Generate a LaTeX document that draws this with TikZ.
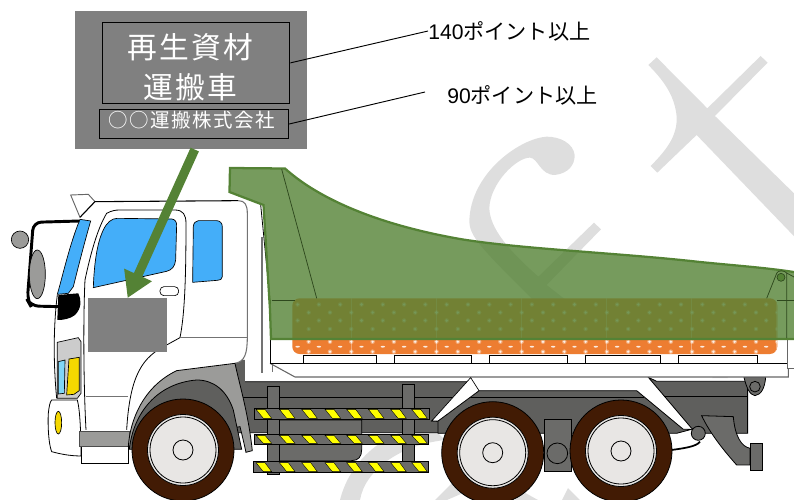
\documentclass[tikz,border=0pt]{standalone}
\usepackage{fontspec}
\newfontfamily\cjk{Noto Sans CJK JP}
\newfontfamily\cjkwide[LetterSpace=8]{Noto Sans CJK JP}
\newfontfamily\latn{Liberation Sans}
\usetikzlibrary{arrows.meta,calc}
\definecolor{wm}{HTML}{DEDEDE}
\definecolor{grn}{HTML}{548235}
\definecolor{org}{HTML}{ED7D31}
\definecolor{skyb}{HTML}{44AEF9}
\definecolor{dk}{HTML}{5F5F5D}
\definecolor{dk2}{HTML}{6B6B69}
\definecolor{fend}{HTML}{9B9B99}
\definecolor{tyre}{HTML}{421B04}
\definecolor{rim}{HTML}{E8E6E4}
\definecolor{ylw}{HTML}{FFFF00}
\definecolor{amber}{HTML}{F5D800}
\tikzset{
  ol/.style={draw=black,line width=.6pt},
  glin/.style={draw=black!55,line width=.8pt},
  pole/.style={fill=dk2,draw=black,line width=.6pt},
  gbar/.style={fill=dk2,draw=black,line width=.6pt},
  stripe/.style={fill=ylw,draw=black,line width=.3pt},
  thinblack/.style={draw=grn!55!black,line width=.55pt},
  signbox/.style={draw=black,line width=.8pt,inner sep=0pt,anchor=north west},
}
\newcommand{\wheel}[2]{%
  \fill[tyre,draw=black,line width=.6pt] (#1,#2) circle[radius=51];
  \fill[rim,draw=black,line width=.6pt] (#1,#2) circle[radius=35.5];
  \draw[black,line width=.6pt] (#1,#2) circle[radius=33];
  \draw[black,line width=.6pt] (#1,#2) circle[radius=10];
}
\newcommand{\hazard}[2]{% zoom2 coords: top y, bottom y
  \foreach \sx in {78,148,215,285,350,415,482,545}{
    \fill[stripe] (\sx,#1+3) -- ++(27,0) -- (\sx+47,#2-3) -- (\sx+22,#2-3) -- cycle;
  }
}
\newcommand{\softdot}[2]{%
  \fill[white,fill opacity=.35] (#1,#2) circle[radius=2.3];
  \fill[white,fill opacity=.8] (#1,#2) circle[radius=1.3];
}
\begin{document}
\begin{tikzpicture}[x=.75pt,y=-.75pt]
\useasboundingbox (0,0) rectangle (794,500);
\clip (0,0) rectangle (794,500);
% watermark
\begin{scope}[shift={(440,40)},scale=.3333]
 \fill[wm] (650,52) -- (802,205) -- (962,48) -- (983,68) -- (825,228) -- (1062,460) -- (1200,600) -- (1150,680) -- (770,285) -- (652,398) -- (632,378) .. controls (690,320) and (712,280) .. (710,230) .. controls (705,175) and (680,130) .. (625,75) -- cycle;
 \fill[wm] (404,345) .. controls (400,310) and (360,290) .. (320,290) .. controls (240,295) and (90,400) .. (88,545) .. controls (90,600) and (140,640) .. (400,900) -- (480,860) -- (320,735) -- (483,568) -- (462,548) -- (295,710) .. controls (240,660) and (150,580) .. (148,505) .. controls (150,430) and (230,352) .. (270,353) .. controls (295,355) and (300,405) .. (345,405) .. controls (385,400) and (405,375) .. (404,345) -- cycle;
\end{scope}
\fill[wm] (340,500) .. controls (350,460) and (385,430) .. (430,425) -- (445,440) .. controls (400,445) and (365,470) .. (360,500) -- cycle;
\fill[wm] (435,500) -- (460,475) -- (470,490) -- (447,500) -- cycle;
\fill[wm] (520,490) -- (538,500) -- (515,500) -- cycle;
\fill[wm] (568,488) -- (580,500) -- (562,500) -- cycle;
\fill[wm] (712,378) -- (720,370) -- (728,378) -- cycle;
% chassis
\begin{scope}[shift={(230,280)},scale=.3333]
 \fill[dk,draw=black,line width=.6pt] (20,305) -- (722,305) -- (605,423) -- (640,426) -- (640,458) -- (395,458) -- (20,458) -- cycle;
 \draw[black,line width=.6pt] (38,352) -- (670,352);
 \fill[dk2,draw=black,line width=.6pt] (148,420) -- (395,420) -- (395,510) .. controls (395,530) and (385,542) .. (365,542) -- (148,542) -- cycle;
 \draw[pole] (113,318) rectangle (148,582);
 \draw[pole] (518,313) rectangle (553,550);
 \draw[gbar] (72,385) rectangle (597,418);
 \hazard{385}{418}
 \draw[gbar] (72,463) rectangle (595,493);
 \hazard{463}{493}
 \draw[gbar] (70,545) rectangle (595,578);
 \hazard{545}{578}
\end{scope}
\begin{scope}[shift={(520,260)},scale=.3333]
 \fill[dk,draw=black,line width=.6pt] (-123,392) -- (350,392) -- (490,508) -- (515,508) -- (470,520) -- (-246,520) -- (-246,483) -- cycle;
 \draw[black,line width=1pt] (-150,412) -- (372,412);
 \fill[dk,draw=black,line width=.6pt] (385,352) -- (410,364) -- (683,364) -- (683,520) -- (545,520) -- (515,505) -- cycle;
 \draw[black,line width=1pt] (433,410) -- (683,410);
 \draw[black,line width=1.3pt] (455,570) .. controls (490,565) and (530,560) .. (540,545);
 \fill[dk2,draw=black,line width=.6pt] (545,467) -- (640,470) .. controls (645,530) and (665,560) .. (690,565) -- (690,615) -- (650,615) .. controls (610,570) and (570,520) .. (545,467) -- cycle;
 \fill[dk2,draw=black,line width=.6pt] (690,550) rectangle (727,630);
 \fill[dk2,draw=black,line width=.6pt] (535,520) circle[radius=21];
 \fill[dk2,draw=black,line width=.6pt] (672,352) -- (737,352) .. controls (735,380) and (725,405) .. (705,407) .. controls (690,405) and (680,385) .. (672,352) -- cycle;
 \draw[black,line width=.6pt] (705,380) circle[radius=16];
 \fill[dk2,draw=black,line width=.6pt] (72,478) rectangle (155,635);
 \draw[black,line width=.6pt] (112,580) circle[radius=31];
\end{scope}
% deck and body white parts
\fill[white] (270,300) rectangle (787,363);
\fill[white,draw=black!60,line width=.8pt] (270,363.3) -- (295,377) -- (788.3,377) -- (788.3,363.3);
\draw[black,line width=.7pt] (270,363.3) -- (788.3,363.3);
\draw[black,line width=.7pt] (270,300) -- (270,363.3);
\fill[white,draw=black!60,line width=.7pt] (787,338) -- (787,368.5) -- (794,368.5) -- (794,338);
\foreach \a/\b in {303.3/376.7,394/471,489/567.7,585/660.7,678.3/757.3}{
  \draw[black,line width=.6pt] (\a,363.3) -- (\a,355) -- (\b,355) -- (\b,363.3);
}
\draw[glin] (262,237) -- (262,373);
\draw[glin] (272.5,365) -- (272.5,372);
\draw[black,line width=.6pt] (260.7,205) -- (270,300);
% white diagonal strut
\fill[white,draw=black,line width=.5pt] (470.7,377.6) -- (479,390.7) -- (438,421) -- (431.7,421) -- cycle;
% cab
\begin{scope}[shift={(0,180)},scale=.3333]
 \fill[white,draw=black!60,line width=.7pt] (212,45) -- (265,43) -- (285,65) -- (240,112) -- cycle;
 \fill[dk] (700,540) -- (735,540) -- (735,620) -- (720,620) -- cycle;
 % cab body
 \fill[white] (240,112) -- (285,65) -- (715,62) .. controls (735,62) and (742,75) .. (742,100) -- (742,470) .. controls (742,520) and (735,545) .. (705,550) -- (530,572) -- (385,760) -- (255,760) -- (240,660) -- (170,655) .. controls (160,550) and (160,440) .. (172,345) -- cycle;
 \draw[black,line width=.8pt] (240,112) -- (285,65) -- (715,62);
 \draw[glin] (715,62) .. controls (735,62) and (742,75) .. (742,100) -- (742,470) .. controls (742,520) and (735,545) .. (705,550);
 \draw[black,line width=.6pt] (172,345) .. controls (160,440) and (160,550) .. (170,655);
 % door
 \draw[black,line width=.6pt] (258,750) .. controls (250,600) and (250,400) .. (255,300) .. controls (270,230) and (290,150) .. (320,100) .. controls (335,92) and (345,90) .. (360,90) -- (525,90) .. controls (550,90) and (558,105) .. (558,130) .. controls (558,280) and (555,400) .. (540,473) -- (500,495) .. controls (430,530) and (390,580) .. (380,750);
 \draw[glin] (540,473) -- (740,473);
 \draw[glin] (258,650) -- (385,650);
 % windows
 \fill[skyb,draw=black,line width=.5pt] (240,118) -- (272,123) .. controls (250,200) and (235,260) .. (220,320) -- (205,340) -- (172,343) .. controls (190,280) and (210,190) .. (240,118) -- cycle;
 \fill[skyb,draw=black,line width=.5pt] (352,115) -- (515,117) .. controls (525,118) and (530,125) .. (530,135) -- (527,240) .. controls (525,260) and (515,270) .. (500,274) -- (280,323) .. controls (282,260) and (290,190) .. (310,150) .. controls (320,128) and (335,115) .. (352,115) -- cycle;
 \fill[skyb,draw=black,line width=.5pt] (595,122) -- (650,122) .. controls (660,122) and (667,130) .. (667,140) -- (667,290) .. controls (667,298) and (660,301) .. (652,301) -- (578,307) -- (580,140) .. controls (581,130) and (586,122) .. (595,122) -- cycle;
 \draw[black,line width=.5pt,fill=white,rounded corners=3pt] (480,320) rectangle (536,347);
 % mirror
 \draw[black,line width=2.2pt,rounded corners=6pt] (238,123) -- (100,127) -- (82,360) -- (92,378) -- (178,380);
 \fill[fend,draw=black,line width=.5pt] (60,179) circle[radius=26];
 \fill[fend,draw=black,line width=.5pt] (112,283) ellipse[x radius=24,y radius=73];
 \fill[black] (175,345) -- (235,340) .. controls (245,360) and (245,385) .. (225,405) .. controls (210,417) and (190,420) .. (172,420) -- cycle;
 % lamp
 \fill[black!20!white,draw=black,line width=.5pt] (172,487) -- (235,473) -- (243,485) -- (243,640) -- (232,655) -- (172,655) -- cycle;
 \fill[cyan!50!white,draw=black,line width=.5pt] (175,545) -- (195,540) -- (193,640) -- (175,642) -- cycle;
 \fill[amber,draw=black,line width=.5pt] (207,537) -- (238,532) -- (238,632) -- (222,643) -- (200,645) -- cycle;
 % bumper
 \fill[white,draw=black,line width=.6pt] (155,660) -- (232,660) .. controls (240,690) and (243,760) .. (243,828) .. controls (210,828) and (180,822) .. (155,815) .. controls (145,790) and (143,730) .. (145,700) .. controls (147,680) and (150,665) .. (155,660) -- cycle;
 \fill[amber,draw=black,line width=.5pt] (175,728) ellipse[x radius=10,y radius=34];
 % step
 \fill[white,draw=black,line width=.6pt] (244,800) rectangle (386,850);
 \fill[fend,draw=black!70,line width=.6pt] (238,755) rectangle (388,800);
 % fender
 \fill[fend,draw=black,line width=.6pt] (385,800) .. controls (390,720) and (430,620) .. (530,572) -- (705,550) .. controls (720,620) and (745,700) .. (757,812) -- (738,817) .. controls (730,780) and (725,760) .. (720,740) -- (400,800) -- cycle;
 \fill[dk,draw=black,line width=.6pt] (388,808) .. controls (400,700) and (470,610) .. (590,600) .. controls (640,600) and (680,630) .. (700,690) -- (725,808) -- cycle;
\end{scope}
% wheels
\wheel{183}{450}
\wheel{492.7}{452.7}
\wheel{621}{451}
% cargo
\fill[org,rounded corners=5.5pt] (292.3,298.3) rectangle (777.3,354);
\begin{scope}
\clip[rounded corners=5.5pt] (292.3,298.3) rectangle (777.3,354);
\foreach \i in {0,...,22}{
  \pgfmathsetmacro\xa{308.7+\i*21.3}
  \pgfmathsetmacro\xb{297.6+\i*21.3}
  \foreach \yy in {312.5,329,341.7,351.7}{\softdot{\xa}{\yy}}
  \foreach \yy in {304.5,320.5}{\softdot{\xb}{\yy}}
  \fill[white,fill opacity=.85] (\xb,346.7) ellipse[x radius=2.2,y radius=.9];
}
\foreach \i in {0,...,5}{
  \draw[white,opacity=.35,line width=.4pt] (351.7+\i*85,298) -- (351.7+\i*85,354);
}
\end{scope}
% green body
\fill[grn,fill opacity=.8] (230,168) -- (285,168.5) .. controls (320,200) and (380,225) .. (460,239) .. controls (520,249) and (620,253) .. (700,262) .. controls (740,266) and (770,268) .. (800,273) -- (800,339) -- (271,339) -- (270,310) -- (263.5,205) -- (229.5,192) -- cycle;
\draw[grn,line width=1.7pt] (800,273) .. controls (770,268) and (740,266) .. (700,262) .. controls (620,253) and (520,249) .. (460,239) .. controls (380,225) and (320,200) .. (285,168.5) -- (230,168) -- (229.5,192) -- (263.5,205) -- (270,310) -- (271,339) -- (800,339);
\draw[thinblack] (281.7,169.3) -- (316.7,298.3);
\draw[thinblack] (271.7,300.7) -- (295,300.7);
\draw[thinblack] (777.3,300.7) -- (794,300.7);
\draw[thinblack] (766.7,298.3) -- (776.7,273.3) .. controls (778,270) and (784,270) .. (786.7,273) -- (786.7,338);
\draw[thinblack] (786.7,273) -- (794,277);
\fill[grn,draw=grn!55!black,line width=.5pt] (781,277.3) circle[radius=4];
% sign on door, panel
\node[fill=black!50,inner sep=0pt,minimum width=78.7*.75pt,minimum height=54*.75pt,anchor=north west] (doorsign) at (88,298) {};
\node[fill=black!50,inner sep=0pt,minimum width=232*.75pt,minimum height=138*.75pt,anchor=north west] (panel) at (75,11) {};
\node[signbox,minimum width=187*.75pt,minimum height=81.3*.75pt] (bigbox) at (102.3,21.7) {};
\node[signbox,minimum width=188.7*.75pt,minimum height=28.4*.75pt] (smallbox) at (99.3,109.3) {};
\node[text=white,inner sep=0pt,font=\cjkwide\fontsize{22.3pt}{22.3pt}\selectfont] (t1) at (190.5,47.5) {再生資材};
\node[text=white,inner sep=0pt,font=\cjkwide\fontsize{22.3pt}{22.3pt}\selectfont] (t2) at (190.5,87.5) {運搬車};
\node[text=white,inner sep=0pt,font=\cjkwide\fontsize{14.6pt}{14.6pt}\selectfont] (t3) at (192,120) {○○運搬株式会社};
\node[inner sep=0pt,anchor=west,font=\fontsize{15.85pt}{15.85pt}\selectfont] (lab140) at (428,31) {\latn 140\cjk ポイント以上};
\node[inner sep=0pt,anchor=west,font=\fontsize{15.85pt}{15.85pt}\selectfont] (lab90) at (447,95) {\latn 90\cjk ポイント以上};
\coordinate (end90) at (425,92);
\draw[black,line width=.7pt] (bigbox.east) -- (lab140.west);
\draw[black,line width=.7pt] (smallbox.east) -- (end90);
\draw[grn,line width=6.8pt,-{Triangle[length=19pt,width=21.5pt]}] ($(panel.south)+(3.5,0)$) -- (doorsign.north);
\end{tikzpicture}
\end{document}
